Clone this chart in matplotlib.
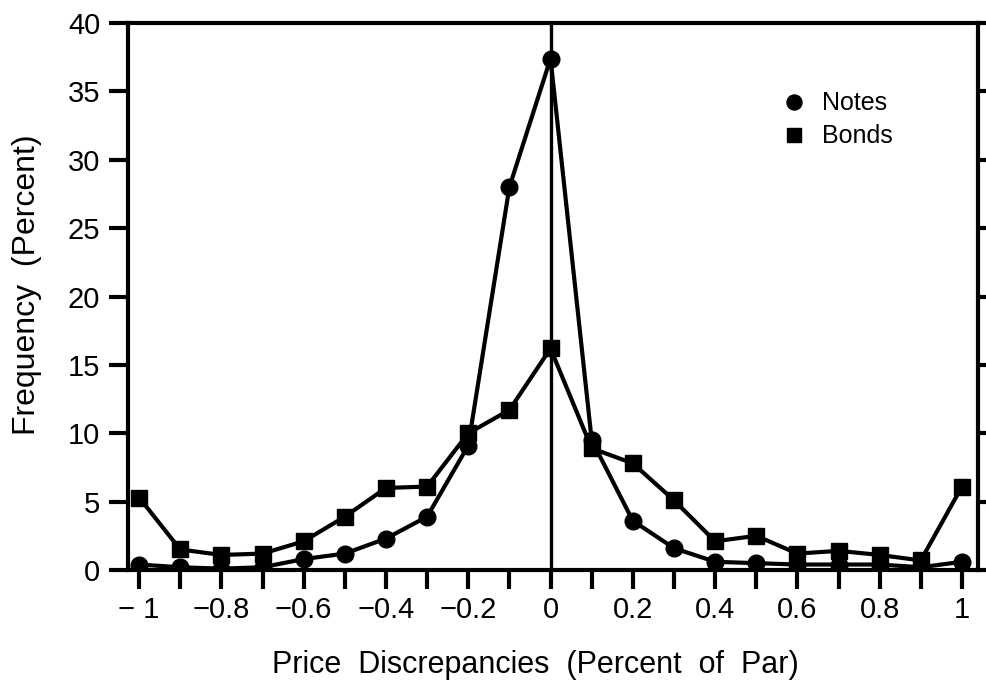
import numpy as np
import matplotlib.pyplot as plt

# Price discrepancy bins (percent of par)
x_vals = [-1.0, -0.9, -0.8, -0.7, -0.6, -0.5, -0.4, -0.3, -0.2, -0.1, 0.0,
          0.1, 0.2, 0.3, 0.4, 0.5, 0.6, 0.7, 0.8, 0.9, 1.0]

# Frequency (percent)
notes = [0.4, 0.2, 0.1, 0.2, 0.8, 1.2, 2.3, 3.9, 9.1, 28.0, 37.4,
         9.5, 3.6, 1.6, 0.6, 0.5, 0.4, 0.4, 0.4, 0.2, 0.6]
bonds = [5.3, 1.5, 1.1, 1.2, 2.1, 3.9, 6.0, 6.1, 10.0, 11.7, 16.2,
         8.9, 7.8, 5.1, 2.1, 2.5, 1.2, 1.4, 1.1, 0.7, 6.1]

x_ticks = [-1, -0.8, -0.6, -0.4, -0.2, 0, 0.2, 0.4, 0.6, 0.8, 1]
x_ticklabels = ['\u2212 1', '\u22120.8', '\u22120.6', '\u22120.4', '\u22120.2',
                '0', '0.2', '0.4', '0.6', '0.8', '1']
y_ticks = [0, 5, 10, 15, 20, 25, 30, 35, 40]

plt.rcParams['font.family'] = ['Liberation Sans', 'DejaVu Sans']

fig = plt.figure(figsize=(9.86, 6.82), dpi=100)
ax = fig.add_axes([128/986, 112/682, 850/986, 547/682])

lw = 3.0
ax.plot(x_vals, notes, color='black', lw=lw, marker='o', ms=12, label='Notes', zorder=3)
ax.plot(x_vals, bonds, color='black', lw=lw, marker='s', ms=11, label='Bonds', zorder=3)
ax.axvline(0, color='black', lw=2.4, zorder=2)

ax.set_xlim(-1.027, 1.039)
ax.set_ylim(0, 40)

ax.set_xticks(np.round(np.arange(-1, 1.01, 0.1), 1), minor=True)
ax.set_xticks(x_ticks)
ax.set_xticklabels(x_ticklabels)
ax.set_yticks(y_ticks)

for side in ['left', 'right', 'top', 'bottom']:
    ax.spines[side].set_linewidth(3.0)

ax.tick_params(axis='both', which='both', direction='out', width=3.0, length=14,
               labelsize=21)
ax.tick_params(axis='y', right=True, labelright=False, pad=6)
ax.tick_params(axis='x', which='both', pad=5)

ax.set_xlabel('Price  Discrepancies  (Percent  of  Par)', fontsize=22)
ax.set_ylabel('Frequency  (Percent)', fontsize=23)
# the original labels sit a little off the axes centre
ax.xaxis.set_label_coords(0.479, -0.146)
ax.yaxis.set_label_coords(-0.101, 0.521)

ax.legend(loc='upper left', bbox_to_anchor=(781/986, (682 - 79)/682),
          bbox_transform=fig.transFigure, frameon=False, borderpad=0,
          fontsize=18, handlelength=0, handletextpad=1.15, markerscale=0.9,
          labelspacing=0.35)

fig.savefig('out.png', dpi=100)
